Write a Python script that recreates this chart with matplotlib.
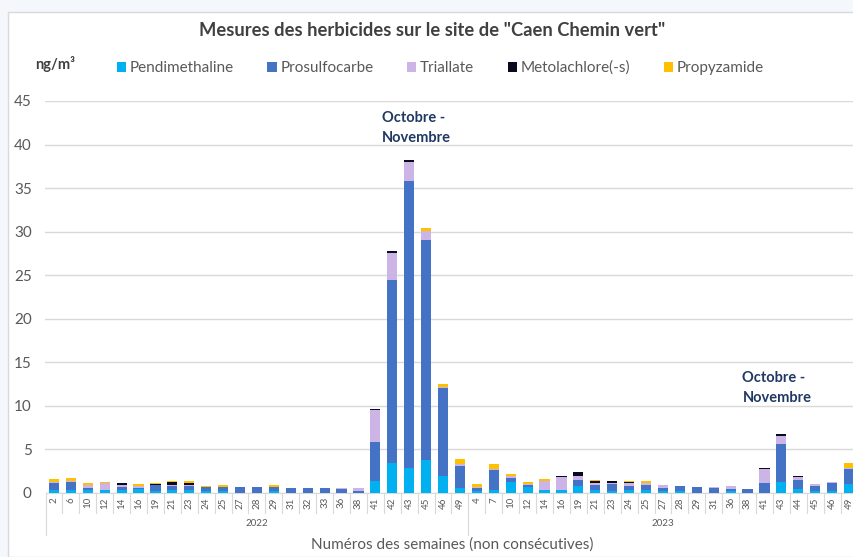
import matplotlib
matplotlib.use("Agg")
import matplotlib.pyplot as plt
import matplotlib.transforms as mtransforms
from matplotlib.patches import Rectangle
import numpy as np

plt.rcParams["font.family"] = ["Lato", "DejaVu Sans"]

weeks_2022 = ["2", "6", "10", "12", "14", "16", "19", "21", "23", "24", "25", "27", "28",
              "29", "31", "32", "33", "36", "38", "41", "42", "43", "45", "46", "49"]
weeks_2023 = ["4", "7", "10", "12", "14", "16", "19", "21", "23", "24", "25", "27", "28",
              "29", "31", "36", "38", "41", "43", "44", "45", "46", "49"]
weeks = weeks_2022 + weeks_2023

# ng/m3, one value per week, 2022 then 2023
pendimethaline = [0.4, 0.3, 0.4, 0.3, 0.4, 0.5, 0.2, 0.4, 0.3, 0.2, 0.2, 0.0, 0.0,
                  0.2, 0.0, 0.0, 0.0, 0.0, 0.0, 1.4, 3.5, 2.9, 3.8, 1.9, 0.6,
                  0.2, 0.3, 1.3, 0.7, 0.3, 0.3, 0.8, 0.3, 0.2, 0.3, 0.3, 0.2, 0.2,
                  0.0, 0.0, 0.2, 0.0, 0.0, 1.3, 0.5, 0.2, 0.2, 1.0]
prosulfocarbe = [0.8, 1.0, 0.2, 0.1, 0.3, 0.1, 0.7, 0.4, 0.5, 0.5, 0.5, 0.65, 0.65,
                 0.5, 0.6, 0.6, 0.6, 0.45, 0.2, 4.5, 21.0, 32.9, 25.2, 10.2, 2.5,
                 0.4, 2.3, 0.4, 0.2, 0.1, 0.1, 0.7, 0.6, 0.8, 0.5, 0.6, 0.4, 0.6,
                 0.7, 0.6, 0.3, 0.5, 1.2, 4.3, 1.0, 0.6, 0.9, 1.8]
triallate = [0.05, 0.1, 0.3, 0.7, 0.2, 0.2, 0.05, 0.1, 0.1, 0.0, 0.0, 0.0, 0.0,
             0.0, 0.0, 0.0, 0.0, 0.15, 0.4, 3.6, 3.1, 2.2, 1.1, 0.1, 0.2,
             0.1, 0.2, 0.2, 0.1, 1.0, 1.4, 0.5, 0.2, 0.1, 0.3, 0.2, 0.3, 0.0,
             0.0, 0.1, 0.3, 0.0, 1.5, 0.9, 0.3, 0.2, 0.2, 0.1]
metolachlore = [0.0, 0.0, 0.0, 0.0, 0.2, 0.0, 0.05, 0.4, 0.3, 0.0, 0.0, 0.0, 0.0,
                0.0, 0.0, 0.0, 0.0, 0.0, 0.0, 0.15, 0.2, 0.2, 0.0, 0.0, 0.0,
                0.0, 0.0, 0.0, 0.0, 0.0, 0.15, 0.4, 0.3, 0.3, 0.2, 0.1, 0.0, 0.0,
                0.0, 0.0, 0.0, 0.0, 0.2, 0.3, 0.2, 0.0, 0.0, 0.0]
propyzamide = [0.3, 0.35, 0.2, 0.2, 0.1, 0.2, 0.15, 0.1, 0.15, 0.15, 0.2, 0.0, 0.0,
               0.2, 0.0, 0.0, 0.0, 0.0, 0.0, 0.0, 0.0, 0.0, 0.3, 0.3, 0.6,
               0.3, 0.5, 0.3, 0.3, 0.2, 0.0, 0.0, 0.1, 0.0, 0.1, 0.2, 0.0, 0.0,
               0.0, 0.0, 0.0, 0.0, 0.0, 0.0, 0.0, 0.0, 0.0, 0.6]

series = [("Pendimethaline", pendimethaline, "#00b0f0"),
          ("Prosulfocarbe", prosulfocarbe, "#4472c4"),
          ("Triallate", triallate, "#cdb4e6"),
          ("Metolachlore(-s)", metolachlore, "#0a0a1e"),
          ("Propyzamide", propyzamide, "#ffc000")]

W, H = 854, 557
fig = plt.figure(figsize=(W / 100, H / 100), dpi=100)
fig.patch.set_facecolor("#f4f7fb")
fig.patches.append(Rectangle((8 / W, 0), 1, 1 - 12 / H, transform=fig.transFigure,
                             facecolor="white", edgecolor="#d9d9d9", lw=1, zorder=-10))

ax = fig.add_axes([45.5 / W, (H - 493) / H, 812 / W, 392 / H])
ax.set_facecolor("none")
x = np.arange(len(weeks))
bottom = np.zeros(len(weeks))
handles = []
for name, vals, col in series:
    v = np.array(vals)
    b = ax.bar(x, v, 0.6, bottom=bottom, color=col, label=name, zorder=3)
    handles.append(b)
    bottom += v

ax.set_xlim(-0.5, len(weeks) - 0.5)
ax.set_ylim(0, 45)
ax.set_yticks(range(0, 46, 5))
ax.tick_params(axis="y", length=0, labelsize=11, labelcolor="#595959", pad=10)
ax.grid(axis="y", color="#d9d9d9", lw=1, zorder=0)
for s in ["top", "right", "left"]:
    ax.spines[s].set_visible(False)
ax.spines["bottom"].set_color("#d9d9d9")
ax.set_xticks(x)
ax.set_xticklabels(weeks, rotation=90, fontsize=7, color="#595959")
ax.tick_params(axis="x", length=0, pad=3)

# category separators below the axis
tr = mtransforms.blended_transform_factory(ax.transData, ax.transAxes)
px = 1 / 392
for i in range(len(weeks) + 1):
    depth = 42 if i in (0, len(weeks_2022), len(weeks)) else 20
    ax.plot([i - 0.5, i - 0.5], [0, -depth * px], transform=tr, color="#d9d9d9",
            lw=0.8, clip_on=False)
ax.text((len(weeks_2022) - 1) / 2, -30 * px, "2022", transform=tr, ha="center",
        va="center", fontsize=7, color="#595959")
ax.text(len(weeks_2022) + (len(weeks_2023) - 1) / 2, -30 * px, "2023", transform=tr,
        ha="center", va="center", fontsize=7, color="#595959")
fig.text(452 / W, 1 - 545 / H, "Numéros des semaines (non consécutives)", ha="center",
         va="center", fontsize=11, color="#595959")

fig.text(432 / W, 1 - 30 / H, 'Mesures des herbicides sur le site de "Caen Chemin vert"',
         ha="center", va="center", fontsize=13.2, fontweight="bold", color="#404040")
fig.text(35 / W, 1 - 64 / H, "ng/m³", ha="left", va="center", fontsize=10.5,
         fontweight="bold", color="#404040")
fig.legend(handles=handles, loc="center left", bbox_to_anchor=(103 / W, 1 - 68 / H),
           ncol=5, frameon=False, fontsize=11, handlelength=0.6, handleheight=0.6,
           handletextpad=0.25, columnspacing=2.2, labelcolor="#595959")

# "Octobre - Novembre" labels, one line at a time so both lines align left
for xa, ya in [(19.4, 39.9), (40.7, 10.1)]:
    ax.annotate("Novembre", (xa, ya), ha="left", va="bottom", fontsize=10.5,
                fontweight="bold", color="#1f3864")
    ax.annotate("Octobre -", (xa, ya), xytext=(0, 14.5), textcoords="offset points",
                ha="left", va="bottom", fontsize=10.5, fontweight="bold", color="#1f3864")

fig.savefig("out.png", dpi=100)
